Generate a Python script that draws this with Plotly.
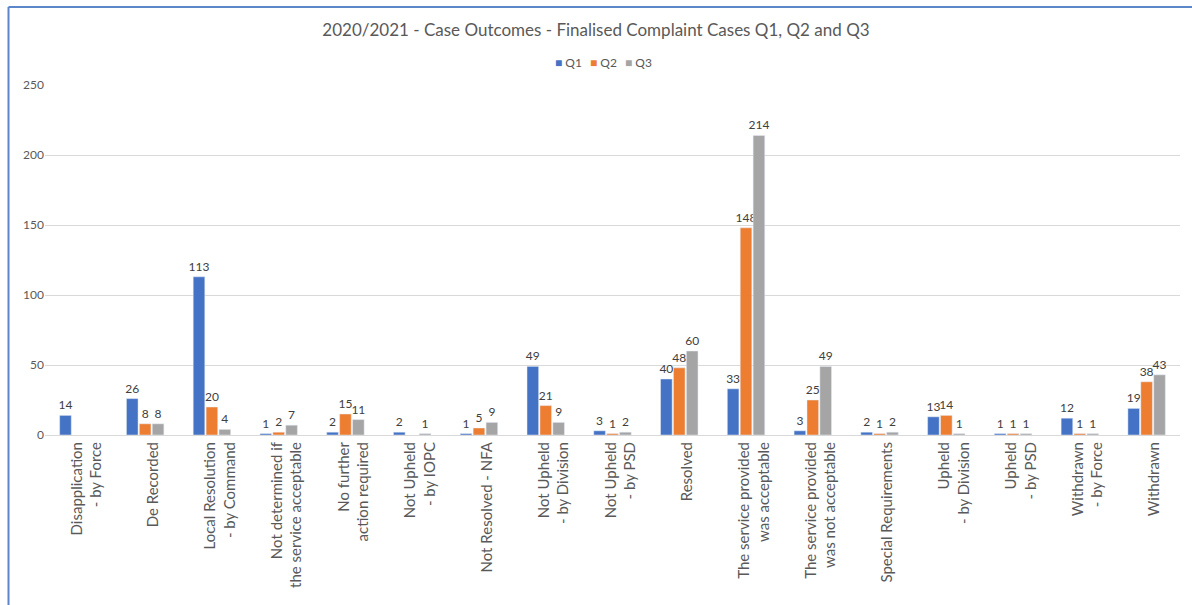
import plotly.graph_objects as go

categories = [
    "Disapplication<br>   - by Force",
    "De Recorded",
    "Local Resolution<br>   - by Command",
    "Not determined if<br>the service acceptable",
    "No further<br>action required",
    "Not Upheld<br>   - by IOPC",
    "Not Resolved - NFA",
    "Not Upheld<br>   - by Division",
    "Not Upheld<br>   - by PSD",
    "Resolved",
    "The service provided<br>was acceptable",
    "The service provided<br>was not acceptable",
    "Special Requirements",
    "Upheld<br>   - by Division",
    "Upheld<br>   - by PSD",
    "Withdrawn<br>   - by Force",
    "Withdrawn",
]
q1 = [14, 26, 113, 1, 2, 2, 1, 49, 3, 40, 33, 3, 2, 13, 1, 12, 19]
q2 = [None, 8, 20, 2, 15, None, 5, 21, 1, 48, 148, 25, 1, 14, 1, 1, 38]
q3 = [None, 8, 4, 7, 11, 1, 9, 9, 2, 60, 214, 49, 2, 1, 1, 1, 43]

series = [("Q1", q1, "#4472C4"), ("Q2", q2, "#ED7D31"), ("Q3", q3, "#A5A5A5")]

FONT = "Lato, Calibri, 'Open Sans', sans-serif"
fig = go.Figure()
for name, vals, col in series:
    fig.add_trace(go.Bar(
        name=name, x=categories, y=vals, marker_color=col,
        text=[("" if v is None else str(v)) for v in vals],
        textposition="outside", constraintext="none", cliponaxis=False,
        textfont=dict(size=12, color="#404040", family=FONT),
        showlegend=False,
    ))

W, H = 1192, 605
L, R, T, B = 45, 12, 85, 170
pw, ph = W - L - R, H - T - B

def px2x(px):
    return (px - L) / pw

def px2y(py):
    return (H - B - py) / ph

# compact legend (one annotation per series, Excel-like spacing)
legend_anns = []
for i, (name, _, col) in enumerate(series):
    legend_anns.append(dict(
        text=f"<span style='color:{col}'>■</span> {name}",
        xref="paper", yref="paper", x=px2x(568 + 35 * i), y=px2y(62),
        xanchor="center", yanchor="middle", showarrow=False,
        font=dict(size=12, color="#595959", family=FONT)))

fig.update_layout(
    width=W, height=H,
    margin=dict(l=L, r=R, t=T, b=B),
    paper_bgcolor="white", plot_bgcolor="white",
    font=dict(family=FONT, color="#595959"),
    title=dict(text="2020/2021 - Case Outcomes - Finalised Complaint Cases Q1, Q2 and Q3",
               x=0.5, xanchor="center", y=1 - 30 / H, yanchor="middle",
               font=dict(size=17, color="#595959", family=FONT)),
    barmode="group", bargap=0.42, bargroupgap=0.1,
    showlegend=False,
    annotations=legend_anns,
    xaxis=dict(tickangle=-90, tickfont=dict(size=15, color="#595959", family=FONT),
               ticklabelshift=8,
               showline=True, linecolor="#d9d9d9", linewidth=1, ticks="",
               showgrid=False),
    yaxis=dict(range=[0, 250], dtick=50, showgrid=True, gridcolor="#d9d9d9",
               gridwidth=1, zeroline=False, ticks="", showline=False,
               tickfont=dict(size=12, color="#595959", family=FONT)),
    shapes=[
        dict(type="line", xref="paper", yref="paper",
             x0=px2x(8.5), x1=px2x(W), y0=px2y(7), y1=px2y(7),
             line=dict(color="#5B86C9", width=2)),
        dict(type="line", xref="paper", yref="paper",
             x0=px2x(8.5), x1=px2x(8.5), y0=px2y(7), y1=px2y(H),
             line=dict(color="#5B86C9", width=2)),
    ],
)

fig.write_html("out.html")
